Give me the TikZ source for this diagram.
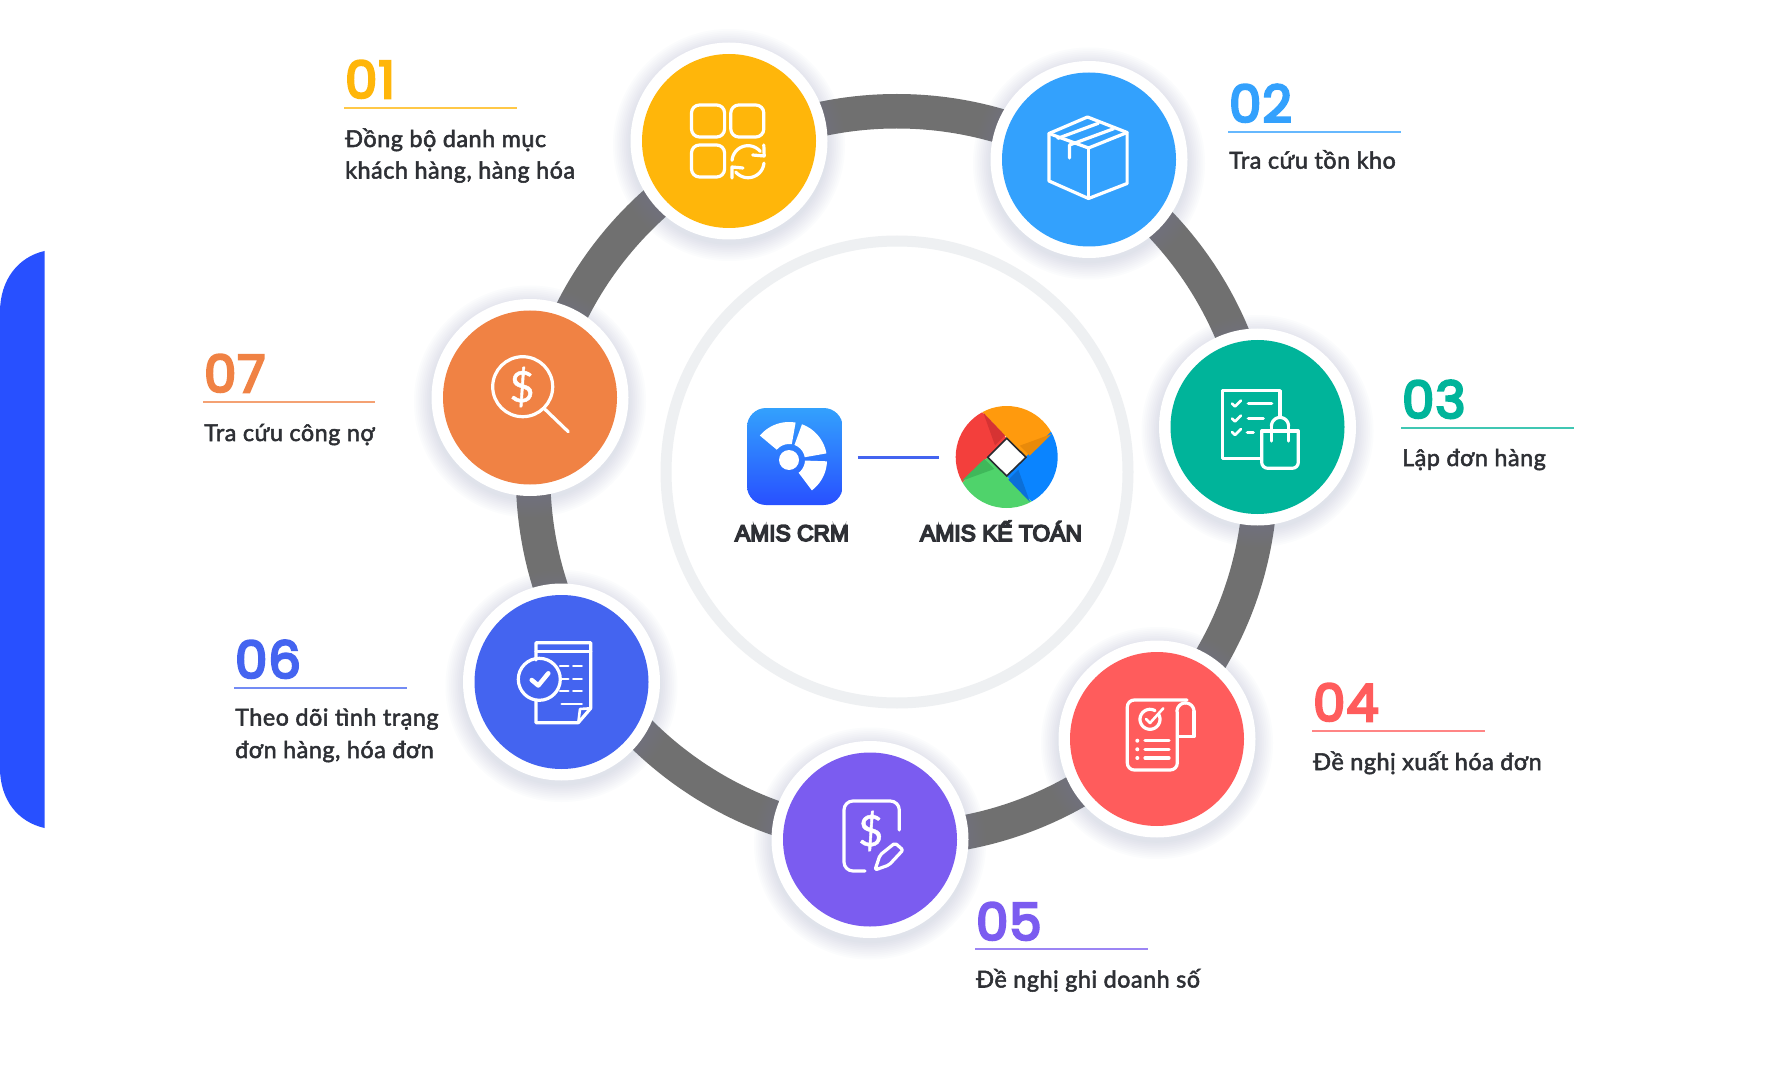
\documentclass[tikz,border=0pt]{standalone}
\usepackage{fontspec}
\usetikzlibrary{calc}
\setmainfont{Lato}
\newfontfamily\bodyf[FakeBold=2.2,LetterSpace=2.4]{Lato}
\newfontfamily\numf[FakeBold=5,LetterSpace=2.5]{Poppins}
\newfontfamily\headf[FakeBold=7]{Liberation Sans}
\newfontfamily\dollf[FakeBold=1]{Lato}
\definecolor{cyel}{HTML}{FFB60A}
\definecolor{cblu}{HTML}{33A1FD}
\definecolor{ctea}{HTML}{00B49A}
\definecolor{cred}{HTML}{FF5C5C}
\definecolor{cpur}{HTML}{7B5CF0}
\definecolor{cind}{HTML}{4464F0}
\definecolor{cora}{HTML}{F08244}
\definecolor{cgrey}{HTML}{707070}
\definecolor{cpale}{HTML}{EEF0F2}
\definecolor{cink}{HTML}{2E3035}
\definecolor{cbar}{HTML}{2850FF}
\definecolor{cshadow}{HTML}{7F93B5}
\definecolor{korange}{HTML}{FF9A0D}
\definecolor{kred}{HTML}{F33F3C}
\definecolor{kgreen}{HTML}{4FD36B}
\definecolor{kblue}{HTML}{0A84FF}
\definecolor{dred}{HTML}{D63333}
\definecolor{dorange}{HTML}{E98A0A}
\definecolor{dblue}{HTML}{0B6FD8}
\definecolor{dgreen}{HTML}{3FB85A}
\tikzset{
  disc/.style={circle,inner sep=0pt,minimum size=174pt,fill=#1},
  ringwhite/.style={circle,inner sep=0pt,minimum size=197pt,fill=white},
  icon/.style={draw=white,line width=3.2pt,line cap=round,line join=round},
  thinicon/.style={draw=white,line width=2.6pt,line cap=round,line join=round},
  numtext/.style={anchor=base west,inner sep=0pt,font=\numf\fontsize{51}{51}\selectfont,text=#1},
  bodytext/.style={anchor=base west,inner sep=0pt,font=\bodyf\fontsize{23.3}{26}\selectfont,text=cink},
  headtext/.style={anchor=base,inner sep=0pt,font=\headf\fontsize{22.8}{26}\selectfont,text=cink},
  rule/.style={draw=#1!75!white,line width=2.3pt},
  dollar/.style={inner sep=0pt,text=white,font=\dollf\fontsize{43}{43}\selectfont}
}
\newcommand\stepdisc[4]{%
  \foreach \i in {1,...,10}{\fill[cshadow,fill opacity=.025] ({#2},{#3+4}) circle[radius={98+\i*1.8}];}
  \node[ringwhite] (w#1) at (#2,#3) {};
  \node[disc=#4] (#1) at (#2,#3) {};
}
\newcommand\steplabel[7]{% name, colour, number, x, base, rule y, rule x2
  \node[numtext=#2] (n#1) at (#4,#5) {#3};
  \coordinate (ra#1) at ({#4-1},#6);
  \coordinate (rb#1) at (#7,#6);
  \draw[rule=#2] (ra#1) -- (rb#1);
}
\newcommand\parc[6][icon]{\draw[#1] plot[domain=#5:#6,samples=30] ({#2+#4*cos(\x)},{#3-#4*sin(\x)});}
\newcommand\annsec[7][white]{\fill[#1] plot[domain=#6:#7,samples=14] ({#2+#5*cos(\x)},{#3-#5*sin(\x)}) -- plot[domain=#7:#6,samples=6] ({#2+#4*cos(\x)},{#3-#4*sin(\x)}) -- cycle;}
\begin{document}
\begin{tikzpicture}[x=1pt,y=-1pt]
\useasboundingbox (0,0) rectangle (1786,1075);
\fill[white] (0,0) rectangle (1786,1075);
% side bar
\fill[cbar] (44.5,251) .. controls (18,257) and (0,280) .. (0,312) -- (0,768) .. controls (0,800) and (18,822) .. (44.5,828) -- cycle;
% rings
\node[circle,draw=cgrey,line width=34.5pt,minimum size=727.5pt,inner sep=0pt] (ring) at (896.8,475) {};
\node[circle,draw=cpale,line width=11pt,minimum size=462pt,inner sep=0pt] (inner) at (897,472) {};
% discs
\stepdisc{c1}{729}{141}{cyel}
\stepdisc{c2}{1089}{159.5}{cblu}
\stepdisc{c3}{1257.5}{427}{ctea}
\stepdisc{c4}{1157}{739}{cred}
\stepdisc{c5}{870}{839.5}{cpur}
\stepdisc{c6}{561.5}{682}{cind}
\stepdisc{c7}{530}{397.5}{cora}
% icon 1
\draw[icon,rounded corners=8pt] (691.5,105) rectangle (724.6,137);
\draw[icon,rounded corners=8pt] (730.8,105) rectangle (763.8,137);
\draw[icon,rounded corners=8pt] (691.5,145) rectangle (724.6,177);
\parc{748}{161.7}{16}{40}{175}
\parc{748}{161.7}{16}{220}{355}
\draw[icon] (763.8,145) -- (764.2,156) -- (752.7,155);
\draw[icon] (732,178) -- (732,167) -- (743,168);
% icon 2
\begin{scope}[xshift=-2.5pt]
\draw[icon] (1090,117) -- (1129.6,132.5) -- (1129.6,183.5) -- (1091,198.5) -- (1051.5,181) -- (1051.5,133.5) -- cycle;
\draw[icon] (1051.5,133.5) -- (1091,148) -- (1129.6,132.5);
\draw[icon] (1091,148) -- (1091,198.5);
\draw[icon] (1100.8,123.3) -- (1060.4,138.3);
\draw[icon] (1116.2,128.7) -- (1072,145) -- (1072,158);
\end{scope}
% icon 3
\draw[icon] (1280,416.7) -- (1280,390.7) -- (1222.7,390.7) -- (1222.7,458.3) -- (1260,458.3);
\draw[thinicon] (1232,403.5) -- (1235,406.5) -- (1241,400.5);
\draw[thinicon] (1232,418.5) -- (1235,421.5) -- (1241,415.5);
\draw[thinicon] (1232,432) -- (1235,435) -- (1241,429);
\draw[icon] (1248.3,403.3) -- (1271.7,403.3);
\draw[icon] (1248.3,418.3) -- (1263.3,418.3);
\draw[icon] (1247.3,432.3) -- (1253.3,432.3);
\draw[icon,rounded corners=6pt] (1261.7,431) -- (1261.7,468.3) -- (1298.3,468.3) -- (1298.3,431);
\draw[icon] (1261.7,431) -- (1298.3,431);
\parc{1280}{426}{8.5}{0}{180}
\draw[icon] (1271.5,426) -- (1271.5,441);
\draw[icon] (1288.5,426) -- (1288.5,441);
% icon 4
\draw[icon,rounded corners=7pt] (1177.3,712) -- (1177.3,770) -- (1127.3,770) -- (1127.3,700) -- (1187,700);
\parc{1185.5}{711.5}{8.5}{0}{90}
\parc{1185.5}{711.5}{8.5}{90}{180}
\draw[icon] (1194,711.5) -- (1194,736.7) -- (1178,736.7);
\parc{1150}{719.3}{10}{60}{390}
\draw[thinicon] (1146,719) -- (1150,723) -- (1163.3,708.3);
\foreach \yy in {740.7,749.3,758}{
  \fill[white] (1137.3,\yy) circle[radius=2];
  \draw[icon] (1145,\yy) -- (1169,\yy);
}
% icon 5
\draw[icon,rounded corners=9pt] (865,871) -- (844,871) -- (844,801) -- (899.3,801) -- (899.3,830);
\node[dollar] (d5) at (870.7,831) {\$};
\draw[icon,rounded corners=2pt] (875,870) -- (880,855) -- (895,843) -- (903,850) -- (889,865) -- cycle;
% icon 6
\draw[icon] (536,660) -- (536,642.7) -- (590.7,642.7) -- (590.7,708.3) -- (578.3,722.7) -- (536,722.7) -- (536,700);
\draw[icon] (536,651.7) -- (590.7,651.7);
\draw[thinicon] (590.7,708.3) -- (580,709) -- (578.3,722.7);
\draw[icon] (539.3,679.3) circle[radius=21];
\draw[line width=4.5pt,draw=white,line cap=round,line join=round] (531.7,680) -- (538.3,685.5) -- (548.3,673.3);
\foreach \yy in {666,679,691}{
  \draw[thinicon] (560,\yy) -- (568.3,\yy);
  \draw[thinicon] (573.3,\yy) -- (581.7,\yy);
}
\draw[thinicon] (561.7,704) -- (581.7,704);
% icon 7
\draw[icon] (522.7,386.7) circle[radius=30];
\draw[icon] (545,409.3) -- (568.3,431.7);
\node[dollar] (d7) at (522,387) {\$};
% centre logos
\shade[top color=cblu,bottom color=cbar,draw=none,rounded corners=19pt] (747,408) rectangle (842.7,505);
\node[inner sep=0pt,minimum width=95.7pt,minimum height=97pt] (crm) at (794.85,456.5) {};
\fill[white] (789,460) circle[radius=10];
\annsec{789}{460}{16}{38}{80}{140}
\annsec{789}{460}{16}{38}{10}{70}
\annsec{789}{460}{16}{38}{-53}{-2}
\node[circle,inner sep=0pt,minimum size=102pt] (keto) at (1006.7,457) {};
\begin{scope}
\clip (1006.7,457) circle[radius=51];
\fill[korange] (1026,457.3) -- (953,382) -- (1090,370) -- (1081,401.6) -- cycle;
\fill[kred] (1006.7,438.3) -- (931.7,513.3) -- (920,400) -- (953,382) -- cycle;
\fill[kgreen] (987.7,457.3) -- (1070,540) -- (950,550) -- (931.7,513.3) -- cycle;
\fill[kblue] (1006.7,476) -- (1081,401.6) -- (1090,520) -- (1070,540) -- cycle;
\fill[dred] (983.3,412.7) -- (1005,435.4) -- (995,445.4) -- cycle;
\fill[dorange] (1051.7,434) -- (1029.7,455.7) -- (1019.7,445.7) -- cycle;
\fill[dblue] (1030,502) -- (1008.3,479.7) -- (1018.3,469.7) -- cycle;
\fill[dgreen] (962,480.7) -- (984.3,459) -- (994.3,469) -- cycle;
\end{scope}
\draw[fill=white,draw=cink!90!black,line width=1.6pt] (1006.7,438.3) -- (1026,457.3) -- (1006.7,476) -- (987.7,457.3) -- cycle;
\draw[cind,line width=3pt,shorten <=15pt,shorten >=16.7pt] (crm.east |- keto) -- (keto.west);
\node[headtext] (tcrm) at (792,541) {AMIS CRM};
\node[headtext] (tketo) at (1001,541) {AMIS KẾ TOÁN};
% labels
\steplabel{1}{cyel}{01}{345}{98}{108}{517}
\node[bodytext] (t1a) at (345,147) {Đồng bộ danh mục};
\node[bodytext] (t1b) at (345,178.5) {khách hàng, hàng hóa};
\steplabel{2}{cblu}{02}{1229}{122}{132}{1401}
\node[bodytext] (t2a) at (1229,168.6) {Tra cứu tồn kho};
\steplabel{3}{ctea}{03}{1402}{418}{428}{1574}
\node[bodytext] (t3a) at (1402,466) {Lập đơn hàng};
\steplabel{4}{cred}{04}{1313}{721}{731}{1485}
\node[bodytext] (t4a) at (1313,770) {Đề nghị xuất hóa đơn};
\steplabel{5}{cpur}{05}{976}{940}{949}{1148}
\node[bodytext] (t5a) at (976,987.5) {Đề nghị ghi doanh số};
\steplabel{6}{cind}{06}{235}{678}{688}{407}
\node[bodytext] (t6a) at (235,725.5) {Theo dõi tình trạng};
\node[bodytext] (t6b) at (235,758) {đơn hàng, hóa đơn};
\steplabel{7}{cora}{07}{204}{392}{402}{375}
\node[bodytext] (t7a) at (204,441) {Tra cứu công nợ};
\end{tikzpicture}
\end{document}
